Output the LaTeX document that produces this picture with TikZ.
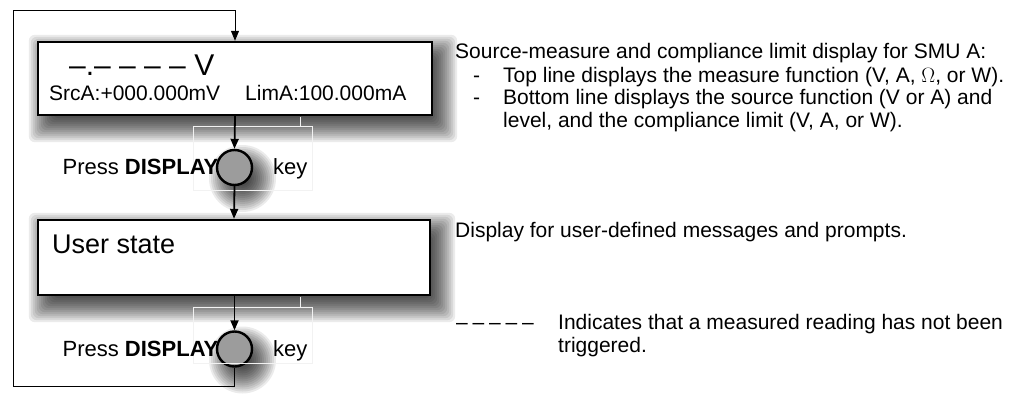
\documentclass[tikz,border=0pt]{standalone}
\usepackage{fontspec}
\setmainfont{Liberation Sans}
\usetikzlibrary{arrows.meta,calc,backgrounds}
\tikzset{
  lcd/.style={draw=black, line width=2.4pt, fill=white, minimum width=394pt,
    minimum height=73pt, inner sep=0pt},
  keyc/.style={circle, draw=black, line width=2.4pt, fill=gray!78, minimum size=35pt, inner sep=0pt},
  shadowlayer/.style={black, opacity=0.08},
  flow/.style={line width=1.8pt, -{Triangle[length=10pt,width=8pt]}},
  loopline/.style={line width=0.9pt},
  loopend/.style={-{Triangle[length=10pt,width=8pt]}},
  faint/.style={draw=gray!10, line width=0.6pt},
  lbl/.style={anchor=base west, inner sep=0pt, font=\fontsize{22}{24}\selectfont},
  note/.style={anchor=base west, inner sep=0pt, font=\fontsize{21}{24}\selectfont},
}
\newcommand\boxshade[1]{%
  \foreach \e in {16,14,...,-14}{%
    \fill[shadowlayer, rounded corners=6pt]
      ($(#1.north west)+({8-\e},{10-\e})$) rectangle ($(#1.south east)+({8+\e},{10+\e})$);
  }}
\newcommand\keyshade[1]{%
  \foreach \e in {16,14,...,-14}{%
    \fill[shadowlayer] ($(#1.center)+(8,11)$) circle[radius={max(17.5+\e,1)}];
  }}
\begin{document}
\begin{tikzpicture}[x=1pt,y=-1pt]
\useasboundingbox (0,0) rectangle (1018,396);

% display boxes and keys
\node[lcd] (box1) at (235,78.5) {};
\node[lcd, minimum width=392pt, minimum height=75pt] (box2) at (234,257.5) {};
\node[keyc] (c1) at (234.5,167.5) {};
\node[keyc] (c2) at (234.5,349) {};

\begin{scope}[on background layer]
  \fill[white] (0,0) rectangle (1018,396);
  \boxshade{box1}
  \boxshade{box2}
  \keyshade{c1}
  \keyshade{c2}
\end{scope}

% faint artifact frames
\draw[faint] (193,126) rectangle (312,190);
\draw[faint] (300,117) -- (300,126);
\draw[faint] (193,307) rectangle (312,363);
\draw[faint] (300,297) -- (300,307);

% texts inside boxes
\node[anchor=base west, inner sep=0pt, font=\fontsize{30}{32}\selectfont] (t1) at (69,76) {–.– – – – V};
\node[anchor=base west, inner sep=0pt, font=\fontsize{21}{24}\selectfont] (t2) at (49,100) {SrcA:+000.000mV\hspace{25pt}LimA:100.000mA};
\node[anchor=base west, inner sep=0pt, font=\fontsize{27}{30}\selectfont] (t3) at (52,253) {User state};

% key labels
\node[lbl, anchor=base east] (p1) at (218.5,174) {Press \textbf{DISPLAY}};
\node[lbl] (k1) at (273,174) {key};
\node[lbl, anchor=base east] (p2) at (218.5,356) {Press \textbf{DISPLAY}};
\node[lbl] (k2) at (273,356) {key};

% flow connectors
\draw[flow] (box1.south) -- (c1.north);
\draw[flow] (c1.south) -- (box2.north);
\draw[flow] (box2.south -| c2) -- (c2.north);
\coordinate (lb) at (13,386);
\coordinate (lt) at (13,10);
\draw[loopline, loopend] (c2.south) |- (lb) -- (lt) -| (box1.north);

% notes
\node[note] (n1) at (455,59) {Source-measure and compliance limit display for SMU A:};
\node[note] (d1) at (473,82) {-};
\node[note] (n2) at (503,82) {Top line displays the measure function (V, A, $\Omega$, or W).};
\node[note] (d2) at (473,105) {-};
\node[note] (n3) at (503,105) {Bottom line displays the source function (V or A) and};
\node[note] (n4) at (503,128) {level, and the compliance limit (V, A, or W).};
\node[note] (n5) at (455,237) {Display for user-defined messages and prompts.};
\node[note] (n6) at (456,329) {–\kern4.8pt–\kern4.8pt–\kern4.8pt–\kern4.8pt–};
\node[note] (n7) at (558,329) {Indicates that a measured reading has not been};
\node[note] (n8) at (558,352) {triggered.};
\end{tikzpicture}
\end{document}
